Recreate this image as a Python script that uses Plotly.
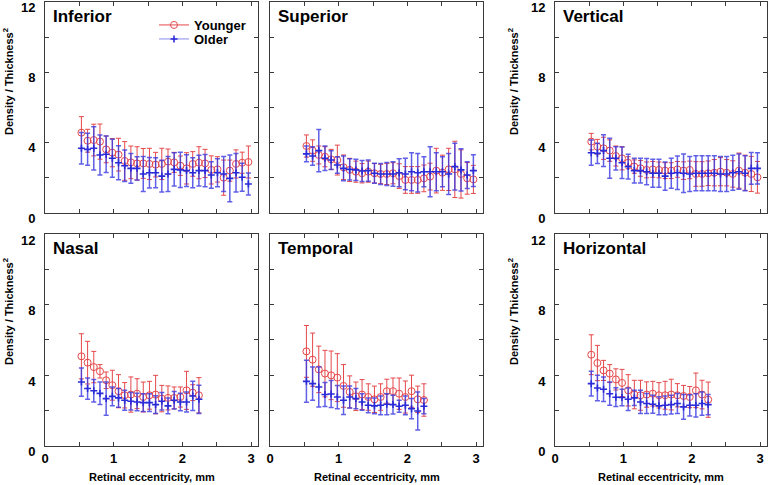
import plotly.graph_objects as go

# ---------------- data ----------------
ecc = [0.53, 0.62, 0.71, 0.80, 0.89, 0.98, 1.07, 1.16, 1.25, 1.34, 1.43, 1.52, 1.61, 1.70,
       1.79, 1.88, 1.97, 2.06, 2.15, 2.24, 2.33, 2.42, 2.51, 2.60, 2.69, 2.78, 2.87, 2.96]
ecc_short = ecc[:20]

panel_names = ["Inferior", "Superior", "Vertical", "Nasal", "Temporal", "Horizontal"]

inferior_young = [4.57, 4.11, 4.15, 4.06, 3.62, 3.43, 3.32, 2.96, 2.88, 2.82, 2.82, 2.79, 2.75, 2.79,
                  2.92, 2.88, 2.69, 2.54, 2.79, 2.86, 2.82, 2.45, 2.48, 2.01, 2.41, 2.79, 2.86, 2.90]
inferior_young_err = [0.91, 0.65, 0.90, 1.00, 0.76, 0.80, 0.93, 1.10, 0.93, 0.95, 0.85, 0.89, 0.70, 0.89,
                      0.72, 0.57, 0.55, 0.89, 0.70, 0.91, 0.80, 0.80, 0.72, 1.00, 0.60, 0.80, 0.60, 0.91]
inferior_old = [3.68, 3.62, 3.68, 3.30, 3.34, 3.11, 2.86, 2.69, 2.54, 2.54, 2.22, 2.29, 2.29, 2.10,
                2.22, 2.48, 2.45, 2.41, 2.29, 2.41, 2.41, 2.16, 2.29, 2.22, 1.97, 2.29, 2.03, 1.65]
inferior_old_err = [0.90, 0.91, 1.23, 1.14, 1.04, 1.08, 0.97, 0.90, 0.85, 0.66, 1.00, 0.87, 0.85, 0.90,
                    1.00, 0.95, 1.00, 0.90, 0.85, 0.88, 0.92, 0.75, 0.80, 1.00, 1.33, 1.10, 0.80, 0.63]

superior_young = [3.81, 3.55, 3.30, 3.20, 3.05, 3.01, 2.60, 2.45, 2.35, 2.26, 2.35, 2.26, 2.22, 2.22,
                  2.26, 2.10, 1.88, 1.88, 1.88, 1.97, 2.07, 2.41, 2.29, 2.48, 2.48, 2.22, 1.97, 1.91]
superior_young_err = [0.63, 0.61, 0.51, 0.57, 0.57, 0.85, 0.70, 0.66, 0.60, 0.55, 0.60, 0.55, 0.55, 0.60,
                      0.60, 0.70, 0.76, 0.76, 0.76, 0.76, 0.76, 1.27, 1.00, 1.20, 1.60, 1.37, 0.90, 0.80]
superior_old = [3.36, 3.24, 3.55, 3.11, 3.01, 2.73, 2.54, 2.48, 2.45, 2.39, 2.41, 2.26, 2.22, 2.22,
                2.22, 2.29, 2.22, 2.35, 2.29, 2.35, 2.35, 2.35, 2.35, 2.22, 2.64, 2.45, 2.16, 2.41]
superior_old_err = [0.45, 0.53, 1.20, 0.70, 0.53, 0.47, 0.70, 0.60, 0.60, 0.60, 0.60, 0.57, 0.60, 0.65,
                    0.70, 0.80, 0.90, 1.08, 1.10, 0.85, 1.42, 1.08, 0.85, 1.17, 1.33, 1.20, 0.76, 0.90]

vertical_young = [4.06, 3.77, 3.68, 3.55, 3.24, 3.11, 2.86, 2.64, 2.54, 2.45, 2.48, 2.45, 2.41, 2.41,
                  2.48, 2.41, 2.45, 2.22, 2.22, 2.26, 2.29, 2.35, 2.29, 2.22, 2.41, 2.29, 2.22, 2.03]
vertical_young_err = [0.47, 0.42, 0.63, 0.61, 0.57, 0.66, 0.34, 0.38, 0.45, 0.45, 0.45, 0.45, 0.45, 0.45,
                      0.45, 0.50, 0.50, 0.70, 0.70, 0.70, 0.75, 0.80, 0.75, 0.75, 1.00, 1.00, 1.00, 0.90]
vertical_old = [3.43, 3.39, 3.55, 3.11, 3.11, 2.86, 2.64, 2.41, 2.41, 2.35, 2.26, 2.26, 2.10, 2.26,
                2.29, 2.26, 2.22, 2.26, 2.26, 2.26, 2.26, 2.22, 2.22, 2.29, 2.35, 2.26, 2.54, 2.54]
vertical_old_err = [0.72, 0.57, 0.90, 1.14, 0.66, 0.90, 0.70, 0.70, 0.70, 0.75, 0.80, 0.80, 0.80, 0.85,
                    0.95, 1.10, 1.00, 1.00, 1.00, 1.00, 1.00, 1.00, 1.00, 1.00, 1.00, 1.00, 0.90, 0.89]

nasal_young = [5.06, 4.70, 4.45, 4.21, 3.70, 3.42, 3.08, 2.85, 2.89, 2.94,
               2.75, 2.85, 2.89, 2.66, 2.70, 2.70, 2.75, 3.13, 3.00, 2.85]
nasal_young_err = [1.28, 1.21, 0.89, 0.38, 0.47, 0.85, 0.94, 0.72, 1.00, 0.85,
                   0.85, 0.79, 1.09, 0.75, 0.68, 0.62, 0.57, 1.08, 0.45, 1.00]
nasal_old = [3.60, 3.23, 3.11, 2.96, 2.66, 2.79, 2.70, 2.57, 2.51, 2.47,
             2.43, 2.43, 2.32, 2.51, 2.25, 2.57, 2.47, 2.47, 2.81, 2.62]
nasal_old_err = [0.80, 0.60, 0.64, 0.64, 0.94, 0.53, 0.53, 0.57, 0.50, 0.50,
                 0.50, 0.50, 0.50, 0.50, 0.45, 0.50, 0.50, 0.57, 0.83, 0.80]

temporal_young = [5.34, 4.87, 4.32, 4.08, 3.98, 3.85, 3.38, 3.04, 2.79, 2.89,
                  2.75, 2.62, 2.75, 3.08, 3.08, 2.94, 2.75, 3.08, 2.62, 2.58]
temporal_young_err = [1.47, 1.51, 1.32, 1.32, 1.38, 1.36, 1.21, 0.91, 0.81, 0.85,
                      0.75, 0.75, 0.75, 0.68, 0.75, 0.89, 0.91, 0.91, 0.75, 0.92]
temporal_old = [3.64, 3.51, 3.32, 2.89, 2.92, 2.75, 2.57, 2.75, 2.66, 2.47,
                2.28, 2.25, 2.28, 2.34, 2.32, 2.23, 2.28, 2.09, 1.96, 2.23]
temporal_old_err = [1.19, 0.94, 1.13, 0.68, 0.77, 0.66, 0.81, 0.62, 0.57, 0.47,
                    0.42, 0.45, 0.53, 0.60, 0.53, 0.34, 0.53, 0.57, 1.08, 0.43]

horizontal_young = [5.15, 4.68, 4.26, 4.08, 3.75, 3.55, 3.13, 2.89, 2.85, 2.89,
                    2.94, 2.85, 2.85, 2.89, 2.85, 2.81, 2.75, 3.13, 2.89, 2.60]
horizontal_young_err = [1.13, 1.00, 0.57, 0.51, 0.60, 0.77, 0.89, 0.81, 0.85, 0.72,
                        0.70, 0.72, 0.79, 0.87, 0.66, 0.60, 0.60, 0.98, 0.81, 1.00]
horizontal_old = [3.51, 3.26, 3.19, 2.94, 2.74, 2.72, 2.62, 2.70, 2.47, 2.38,
                  2.34, 2.25, 2.28, 2.32, 2.38, 2.19, 2.28, 2.28, 2.38, 2.32]
horizontal_old_err = [0.70, 0.72, 0.70, 0.66, 0.53, 0.47, 0.64, 0.43, 0.66, 0.57,
                      0.51, 0.51, 0.53, 0.53, 0.57, 0.70, 0.60, 0.66, 0.66, 0.57]

x_tick_vals = [0, 0.5, 1, 1.5, 2, 2.5, 3]
x_tick_text = ["0", " ", "1", " ", "2", " ", "3"]
y_tick_vals = [0, 2, 4, 6, 8, 10, 12]
y_tick_text = ["0", " ", "4", " ", "8", " ", "12"]

y_title = "Density / Thickness<sup>2</sup>"
x_title = "Retinal eccentricity, mm"

# ---------------- styling ----------------
W, H = 768, 485
RED = "#e5484a"
BLUE = "#2a2ad8"
BLUE_ERR = "rgba(55,55,225,0.8)"
FONT = "Arial, Liberation Sans, Helvetica, sans-serif"

panels = [
    (ecc, inferior_young, inferior_young_err, inferior_old, inferior_old_err),
    (ecc, superior_young, superior_young_err, superior_old, superior_old_err),
    (ecc, vertical_young, vertical_young_err, vertical_old, vertical_old_err),
    (ecc_short, nasal_young, nasal_young_err, nasal_old, nasal_old_err),
    (ecc_short, temporal_young, temporal_young_err, temporal_old, temporal_old_err),
    (ecc_short, horizontal_young, horizontal_young_err, horizontal_old, horizontal_old_err),
]

# panel pixel boxes (left, right) and (top, bottom)
col_px = [(45, 258), (270, 483), (555, 767)]
row_px = [(2, 213), (234, 445.5)]


def px_x(p):
    return p / W


def px_y(p):
    return 1 - p / H


fig = go.Figure()
annotations = []

for i, (xs, yy, ye, oy, oe) in enumerate(panels):
    r, c = divmod(i, 3)
    n = i + 1
    xa = "x" if n == 1 else f"x{n}"
    ya = "y" if n == 1 else f"y{n}"

    fig.add_trace(go.Scatter(
        x=xs, y=yy, mode="markers", xaxis=xa, yaxis=ya, showlegend=False,
        marker=dict(symbol="circle-open", size=7, color=RED, line=dict(width=1, color=RED)),
        error_y=dict(type="data", array=ye, visible=True, color=RED, thickness=1, width=2.5),
    ))
    fig.add_trace(go.Scatter(
        x=xs, y=oy, mode="markers", xaxis=xa, yaxis=ya, showlegend=False,
        marker=dict(symbol="cross-thin", size=5, color=BLUE, line=dict(width=1.6, color=BLUE)),
        error_y=dict(type="data", array=oe, visible=True, color=BLUE_ERR, thickness=1.5, width=2.5),
    ))

    l, rr = col_px[c]
    t, b = row_px[r]
    axis_common = dict(showline=True, linecolor="#3a3a3a", linewidth=1, mirror="ticks",
                       ticks="inside", ticklen=4, tickcolor="#3a3a3a", showgrid=False,
                       zeroline=False, fixedrange=True, automargin=False,
                       ticklabeloverflow="allow")
    xkey = "xaxis" if n == 1 else f"xaxis{n}"
    ykey = "yaxis" if n == 1 else f"yaxis{n}"
    fig.update_layout({
        xkey: dict(domain=[px_x(l), px_x(rr)], range=[0, 3.1], anchor=ya,
                   tickmode="array", tickvals=x_tick_vals, ticktext=x_tick_text,
                   showticklabels=(r == 1), ticklabelstandoff=1,
                   tickfont=dict(family=FONT, size=13, color="black", weight="bold"),
                   **axis_common),
        ykey: dict(domain=[px_y(b), px_y(t)], range=[0, 12], anchor=xa,
                   tickmode="array", tickvals=y_tick_vals, ticktext=y_tick_text,
                   showticklabels=(c != 1), ticklabelshift=(5 if r == 0 else 6),
                   ticklabelstandoff=6,
                   tickfont=dict(family=FONT, size=13, color="black", weight="bold"),
                   **axis_common),
    })

    # panel title
    annotations.append(dict(
        text=f"<b>{panel_names[i]}</b>", xref="paper", yref="paper",
        x=px_x(l + 6), y=px_y(t + 15), xanchor="left", yanchor="middle",
        showarrow=False, font=dict(family=FONT, size=17, color="black"),
    ))

# y-axis titles (left and right columns)
for c in (0, 2):
    xpos = 8 if c == 0 else 513
    for r, cy in enumerate((82, 312)):
        annotations.append(dict(
            text=f"<b>{y_title}</b>", xref="paper", yref="paper",
            x=px_x(xpos), y=px_y(cy), xanchor="center", yanchor="middle",
            textangle=-90, showarrow=False, font=dict(family=FONT, size=11, color="black"),
        ))

# x-axis titles under the bottom row
for c in range(3):
    l, rr = col_px[c]
    annotations.append(dict(
        text=f"<b>{x_title}</b>", xref="paper", yref="paper",
        x=px_x((l + rr) / 2), y=px_y(477), xanchor="center", yanchor="middle",
        showarrow=False, font=dict(family=FONT, size=11, color="black"),
    ))

# legend entries (two legends so the rows sit close together)
fig.add_trace(go.Scatter(
    x=[None], y=[None], mode="lines+markers", name="<b>Younger</b>", legend="legend",
    line=dict(color=RED, width=1),
    marker=dict(symbol="circle-open", size=7, color=RED, line=dict(width=1, color=RED)),
))
fig.add_trace(go.Scatter(
    x=[None], y=[None], mode="lines+markers", name="<b>Older</b>", legend="legend2",
    line=dict(color="rgba(60,60,230,0.6)", width=1),
    marker=dict(symbol="cross-thin", size=5, color=BLUE, line=dict(width=1.6, color=BLUE)),
))

legend_common = dict(xanchor="left", yanchor="top", bgcolor="rgba(0,0,0,0)", borderwidth=0,
                     font=dict(family=FONT, size=13, color="black"), itemwidth=30)

fig.update_layout(
    width=W, height=H,
    margin=dict(l=0, r=0, t=0, b=0, autoexpand=False),
    paper_bgcolor="white", plot_bgcolor="white",
    annotations=annotations,
    showlegend=True,
    legend=dict(x=px_x(154), y=px_y(10), **legend_common),
    legend2=dict(x=px_x(154), y=px_y(24), **legend_common),
    font=dict(family=FONT),
)

fig.write_html("out.html", config={"displayModeBar": False},
               post_script="document.body.style.margin='0';")
